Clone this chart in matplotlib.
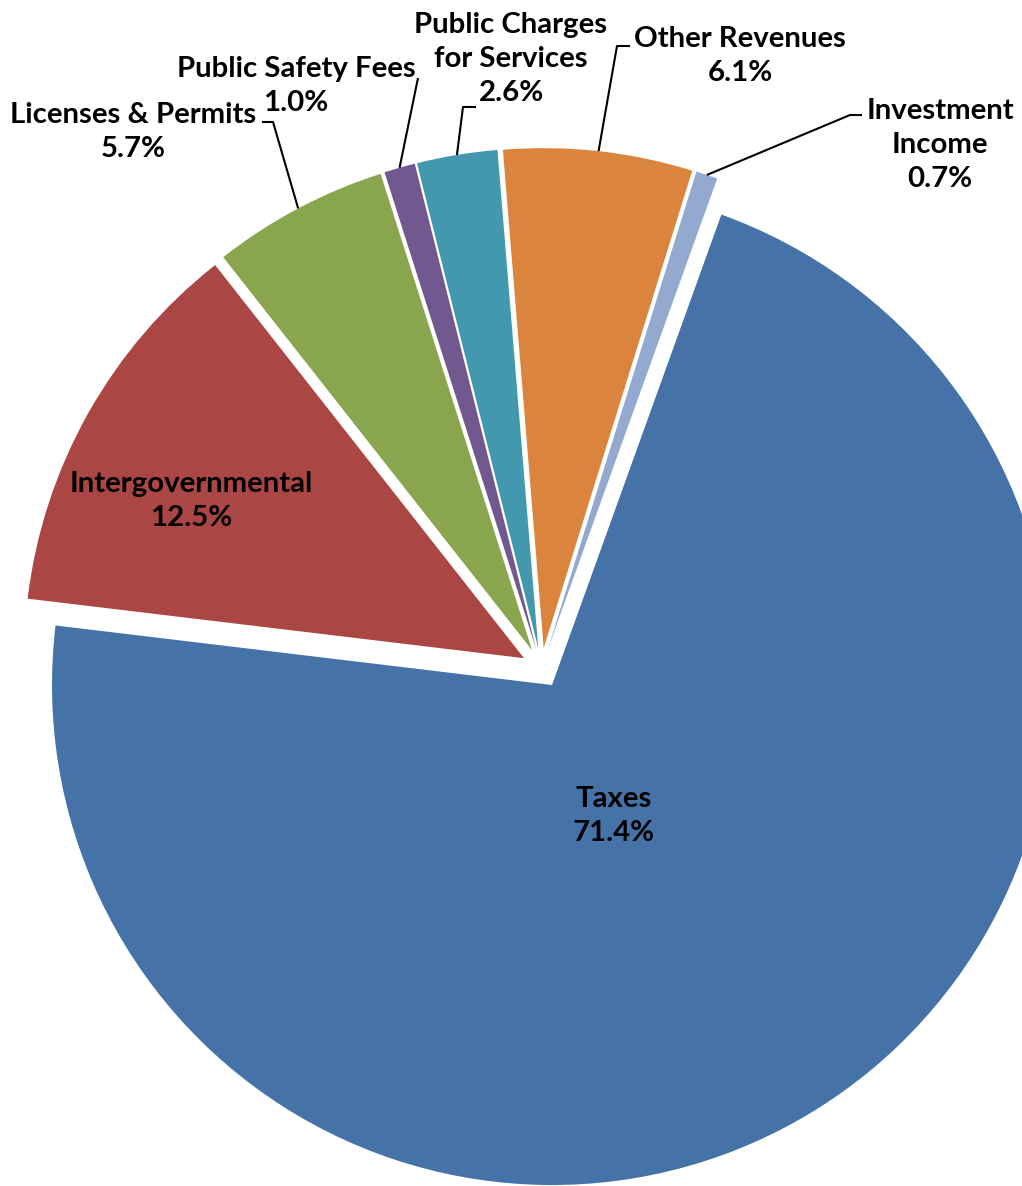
"""Revenue share pie chart, exploded slices with Excel-like label placement."""
import matplotlib
matplotlib.use("Agg")
import matplotlib.pyplot as plt  # noqa: E402
import numpy as np  # noqa: E402

categories = ["Taxes", "Intergovernmental", "Licenses & Permits",
              "Public Safety Fees", "Public Charges\nfor Services",
              "Other Revenues", "Investment\nIncome"]
shares = [71.4, 12.5, 5.7, 1.0, 2.6, 6.1, 0.7]
colors = ["#4673A7", "#AA4644", "#89A54E", "#71588F", "#4198AF",
          "#DB843D", "#93A9CF"]

W, H = 1022, 1186
CX, CY, R = 541.5, 668, 500  # pie centre / radius in pixels


def px(x, y):
    # pixel position (y from the top) -> data units (pie radius = 1)
    return (x - CX) / R, (CY - y) / R


# label block centres and leader-line elbows, in pixels
label_pos = [(614, 816), (191, 501), (133, 132), (296, 86), (511, 59),
             (740, 56), (940, 145)]
leaders = {2: [(262, 122), (273, 122)],
           3: [(418, 78)],
           4: [(476, 107), (463, 107)],
           5: [(630, 46), (617, 46)],
           6: [(862, 115), (850, 115)]}

plt.rcParams["font.family"] = ["Lato", "DejaVu Sans"]

fig = plt.figure(figsize=(W / 100, H / 100), dpi=100)
ax = fig.add_axes([0, 0, 1, 1])

wedges, _ = ax.pie(shares, explode=[0.04] * len(shares), colors=colors,
                   startangle=70.2, counterclock=False,
                   wedgeprops=dict(linewidth=0))

for i, (name, val) in enumerate(zip(categories, shares)):
    x, y = px(*label_pos[i])
    ax.text(x, y, f"{name}\n{val:.1f}%", ha="center", va="center",
            fontsize=21.2, fontweight="bold", linespacing=1.4, color="black")

for i, pts in leaders.items():
    w = wedges[i]
    th = np.deg2rad((w.theta1 + w.theta2) / 2)
    cx, cy = w.center
    end = (cx + w.r * np.cos(th), cy + w.r * np.sin(th))
    xs, ys = zip(*([px(*p) for p in pts] + [end]))
    ax.plot(xs, ys, color="black", lw=1.5, solid_capstyle="butt")

x0, y0 = px(0, H)
x1, y1 = px(W, 0)
ax.set_xlim(x0, x1)
ax.set_ylim(y0, y1)
ax.set_aspect("equal")
ax.axis("off")

fig.savefig("out.png", dpi=100)
